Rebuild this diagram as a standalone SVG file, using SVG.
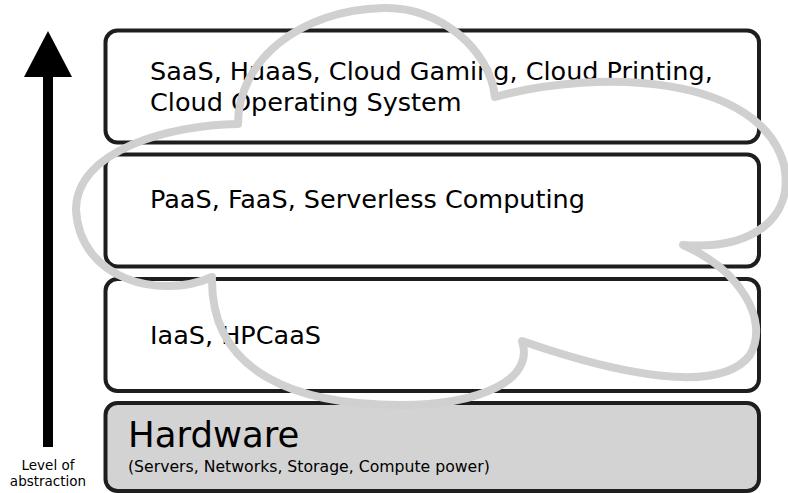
<svg xmlns="http://www.w3.org/2000/svg" width="788" height="493" viewBox="0 0 788 493">
<style>
.box{fill:#fff;stroke:#1e1e1e;stroke-width:4}
.hw{fill:#d3d3d3;stroke:#1e1e1e;stroke-width:4}
.t{font-family:"DejaVu Sans",sans-serif;font-size:25.5px;fill:#000}
.s{font-family:"DejaVu Sans",sans-serif;font-size:13.5px;fill:#000}
.cloud{fill:none;stroke:#d0d0d0;stroke-width:8;stroke-linejoin:round}
</style>
<rect width="788" height="493" fill="#fff"/>
<g id="arrow">
<rect x="43" y="70" width="10" height="377" fill="#000"/>
<polygon points="48,31 72,77 24,77" fill="#000"/>
<text class="s" x="48" y="470" text-anchor="middle">Level of</text>
<text class="s" x="48" y="486" text-anchor="middle">abstraction</text>
</g>
<g id="saas">
<rect class="box" x="105.5" y="30.5" width="653.5" height="112" rx="12"/>
<text class="t" x="150" y="80">SaaS, HuaaS, Cloud Gaming, Cloud Printing,</text>
<text class="t" x="150" y="111">Cloud Operating System</text>
</g>
<g id="paas">
<rect class="box" x="105.5" y="154.5" width="653.5" height="112" rx="12"/>
<text class="t" x="150" y="208">PaaS, FaaS, Serverless Computing</text>
</g>
<g id="iaas">
<rect class="box" x="105.5" y="279" width="653.5" height="112" rx="12"/>
<text class="t" x="150" y="344">IaaS, HPCaaS</text>
</g>
<g id="hardware">
<rect class="hw" x="105.5" y="403" width="653.5" height="88" rx="12"/>
<text x="128" y="447" font-family="DejaVu Sans,sans-serif" font-size="35.5">Hardware</text>
<text x="128" y="472" font-family="DejaVu Sans,sans-serif" font-size="15.7">(Servers, Networks, Storage, Compute power)</text>
</g>
<g id="cloud">
<path class="cloud" d="M238,124 C238,60 300,10 383,8 C440,6 490,50 495,97 C600,68 760,75 784,165 C795,220 750,250 683,245 C740,270 770,320 750,355 C720,395 620,375 522,341 C535,380 480,405 400,405 C300,405 210,375 212,277 C160,300 80,280 76,210 C76,150 170,125 238,124 Z"/>
</g>
</svg>
